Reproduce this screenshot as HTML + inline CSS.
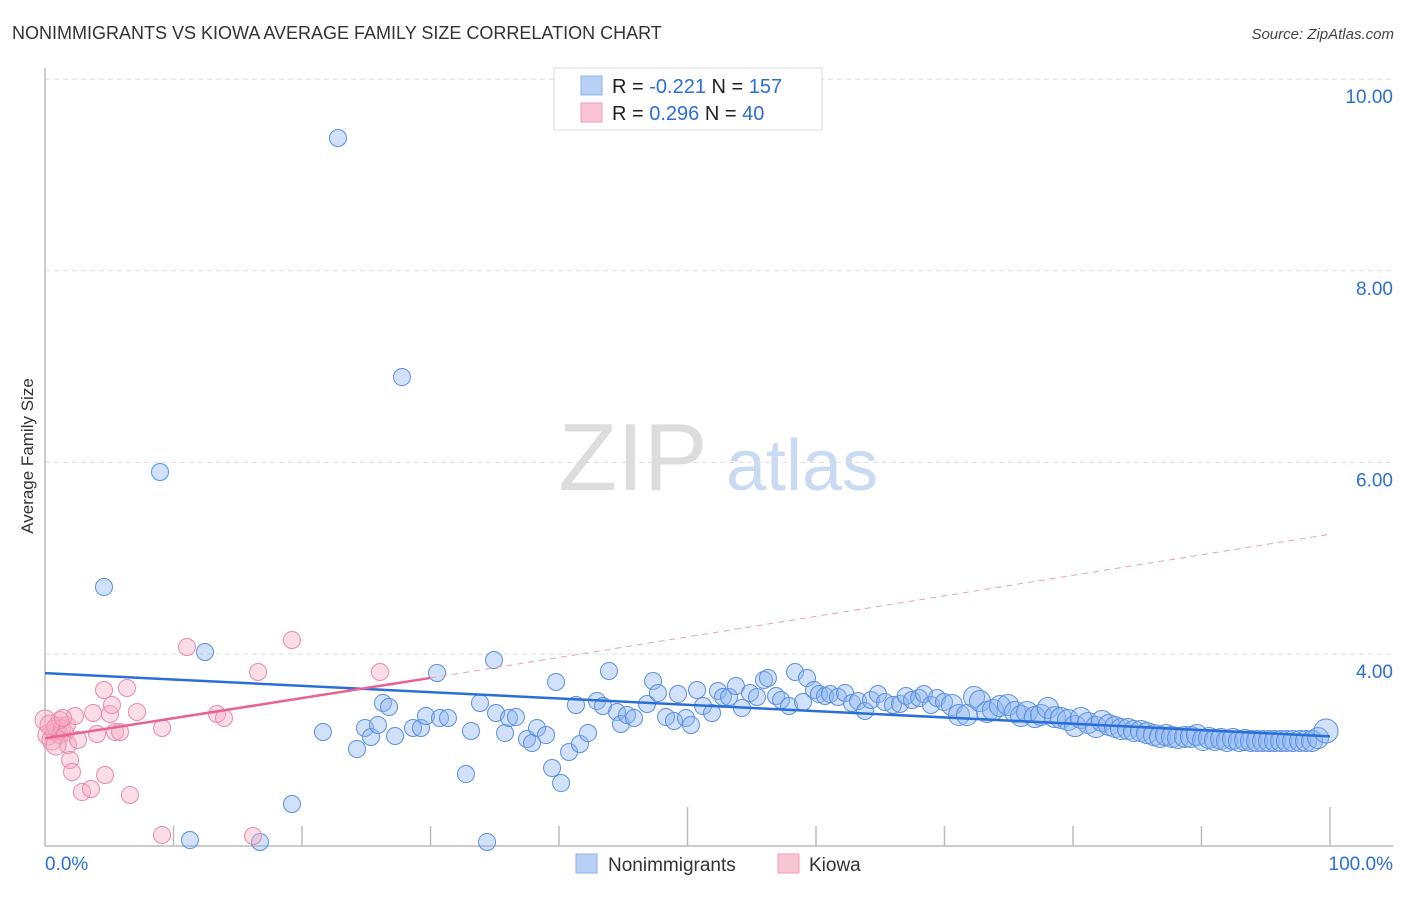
<!DOCTYPE html>
<html><head><meta charset="utf-8">
<style>
body{margin:0;background:#fff;font-family:"Liberation Sans",sans-serif;}
svg text{font-family:"Liberation Sans",sans-serif;}
</style></head>
<body>
<svg id="chart" width="1406" height="892" viewBox="0 0 1406 892" xmlns="http://www.w3.org/2000/svg">
<text x="12" y="39" font-size="18" fill="#333">NONIMMIGRANTS VS KIOWA AVERAGE FAMILY SIZE CORRELATION CHART</text>
<text x="1394" y="39" font-size="15" fill="#444" text-anchor="end" font-style="italic">Source: ZipAtlas.com</text>
<text transform="translate(33,456) rotate(-90)" font-size="17" fill="#333" text-anchor="middle">Average Family Size</text>
<g>
<text x="633" y="490" font-size="96" fill="#ddd" font-family="Liberation Serif" text-anchor="middle">ZIP</text>
<text x="802" y="490" font-size="72" fill="#c9daf2" text-anchor="middle">atlas</text>
</g>
<g id="grid"></g>
<g id="axes"></g>
<g id="marks"></g>
<g id="trends"></g>
<g>
<rect x="554" y="68" width="268" height="62" fill="#fff" stroke="#ddd"/>
<rect x="581" y="76" width="21" height="19" fill="#b9d0f5" stroke="#8db0ea"/>
<rect x="581" y="103" width="21" height="19" fill="#f9c5d5" stroke="#ef9fb9"/>
<text x="612" y="93" font-size="20" fill="#222">R = <tspan fill="#2c6fd6">-0.221</tspan>   N = <tspan fill="#2c6fd6">157</tspan></text>
<text x="612" y="120" font-size="20" fill="#222">R = <tspan fill="#2c6fd6"> 0.296</tspan>   N = <tspan fill="#2c6fd6"> 40</tspan></text>
</g>
<g>
<rect x="576" y="854" width="21" height="19" fill="#b9d0f5" stroke="#8db0ea"/>
<text x="608" y="871" font-size="19" fill="#333">Nonimmigrants</text>
<rect x="778" y="854" width="21" height="19" fill="#f9c5d5" stroke="#ef9fb9"/>
<text x="809" y="871" font-size="19" fill="#333">Kiowa</text>
</g>
</svg>
<script>
const yTicks=[4,6,8,10];
const yTickLabels=["4.00","6.00","8.00","10.00"];
const xTicks=[0,10,20,30,40,50,60,70,80,90,100];
const bluePx=[[338,138],[402,377],[160,472],[104,587],[205,652],[437,673],[494,660],[323,732],[357,749],[365,728],[371,737],[378,725],[383,703],[389,707],[395,736],[413,728],[421,728],[426,716],[440,718],[448,718],[466,774],[471,731],[480,703],[496,713],[505,733],[509,718],[516,717],[527,739],[532,743],[537,728],[546,735],[552,768],[556,682],[561,783],[569,752],[576,705],[580,744],[588,733],[597,701],[603,706],[609,671],[617,712],[621,724],[627,715],[634,718],[647,704],[653,681],[658,693],[666,717],[674,721],[678,694],[686,718],[691,725],[697,690],[703,706],[712,713],[718,691],[723,697],[729,697],[736,686],[742,708],[750,693],[757,697],[764,680],[768,678],[776,696],[781,700],[789,706],[795,672],[803,702],[807,678],[814,690],[819,694],[825,696],[830,694],[838,697],[845,693],[852,703],[858,701],[865,711],[871,700],[878,694],[885,702],[893,705],[900,704],[906,696],[912,700],[919,698],[924,694],[931,705],[937,698],[944,702],[952,705],[959,715],[967,715],[974,697],[980,701],[987,712],[993,710],[1000,706],[1008,705],[1015,712],[1021,716],[1027,712],[1035,717],[1041,715],[1048,708],[1055,717],[1061,718],[1068,720],[1075,726],[1081,718],[1088,723],[1096,727],[1102,721],[1109,725],[1115,727],[1121,729],[1128,729],[1134,731],[1141,731],[1147,733],[1154,735],[1160,737],[1166,735],[1172,737],[1178,738],[1185,737],[1191,737],[1197,735],[1203,740],[1209,738],[1215,740],[1221,739],[1227,741],[1233,739],[1239,741],[1245,740],[1251,741],[1257,741],[1263,741],[1269,741],[1275,741],[1281,741],[1287,741],[1293,741],[1300,741],[1306,741],[1312,741],[1318,738],[1326,731],[292,804],[190,840],[260,842],[487,842]];
const pinkPx=[[45,720],[48,735],[52,740],[55,730],[57,727],[60,735],[62,728],[65,733],[67,725],[68,745],[70,760],[72,772],[75,716],[78,740],[82,792],[91,789],[97,734],[104,690],[105,775],[110,714],[112,705],[115,732],[120,732],[127,688],[130,795],[137,712],[162,728],[162,835],[187,647],[217,714],[224,718],[253,836],[258,672],[292,640],[380,672],[93,713],[60,720],[50,725],[56,745],[63,718]];
const blueX=bluePx.map(p=>+((p[0]-45)/12.85).toFixed(2));
const blueY=bluePx.map(p=>+(4-(p[1]-654)/95.8).toFixed(3));
const pinkX=pinkPx.map(p=>+((p[0]-45)/12.85).toFixed(2));
const pinkY=pinkPx.map(p=>+(4-(p[1]-654)/95.8).toFixed(3));
const blueTrend=[[0,3.80],[100,3.14]];
const pinkTrend=[[0,3.12],[30,3.75],[100,5.25]];

const X=v=>45+v*12.85, Y=v=>654-(v-4)*95.8;
const NS="http://www.w3.org/2000/svg";
function mk(tag,attrs,parent){const e=document.createElementNS(NS,tag);for(const k in attrs)e.setAttribute(k,attrs[k]);parent.appendChild(e);return e;}
const grid=document.getElementById('grid'),axes=document.getElementById('axes'),marks=document.getElementById('marks'),trends=document.getElementById('trends');
yTicks.forEach((t,i)=>{
 const l=mk('line',{x1:45,x2:1393,y1:Y(t),y2:Y(t),stroke:'#ddd','stroke-dasharray':'5,4'},grid);
 
 
 const tx=mk('text',{x:1393,y:Y(t)+24,'font-size':19,fill:'#2c6fd6','text-anchor':'end'},grid);
 tx.textContent=yTickLabels[i];
 
 
});
let a=mk('line',{x1:45,x2:45,y1:68,y2:846,stroke:'#bbb','stroke-width':1.5},axes);


a=mk('line',{x1:45,x2:1393,y1:846,y2:846,stroke:'#bbb','stroke-width':1.5},axes);


xTicks.forEach(t=>{
 if(t===0)return;
 const tall=(t===50||t===100);
 const l=mk('line',{x1:X(t),x2:X(t),y1:tall?807:826,y2:846,stroke:'#bbb','stroke-width':1.5},axes);
 
 
});
let tl=mk('text',{x:45,y:870,'font-size':19,fill:'#2c6fd6'},axes);tl.textContent='0.0%';


tl=mk('text',{x:1393,y:870,'font-size':19,fill:'#2c6fd6','text-anchor':'end'},axes);tl.textContent='100.0%';


blueX.forEach((x,i)=>{
 const r=x>70?10.5:(x>99?12:8.5);
 const c=mk('circle',{cx:X(x),cy:Y(blueY[i]),r:i===blueX.length-5?12:r,fill:'rgba(140,180,240,0.4)',stroke:'#5b8fe0','stroke-width':1},marks);
 
 
});
pinkX.forEach((x,i)=>{
 const c=mk('circle',{cx:X(x),cy:Y(pinkY[i]),r:x<1?10:8.5,fill:'rgba(245,170,195,0.4)',stroke:'#e88aa8','stroke-width':1},marks);
 
 
});
let t=mk('line',{x1:X(blueTrend[0][0]),y1:Y(blueTrend[0][1]),x2:X(blueTrend[1][0]),y2:Y(blueTrend[1][1]),stroke:'#2a6fd8','stroke-width':2.5},trends);


t=mk('line',{x1:X(pinkTrend[0][0]),y1:Y(pinkTrend[0][1]),x2:X(pinkTrend[1][0]),y2:Y(pinkTrend[1][1]),stroke:'#e8638f','stroke-width':2.5},trends);


t=mk('line',{x1:X(pinkTrend[1][0]),y1:Y(pinkTrend[1][1]),x2:X(pinkTrend[2][0]),y2:Y(pinkTrend[2][1]),stroke:'#e8a0b8','stroke-width':1,'stroke-dasharray':'6,5'},trends);


</script>
</body></html>
